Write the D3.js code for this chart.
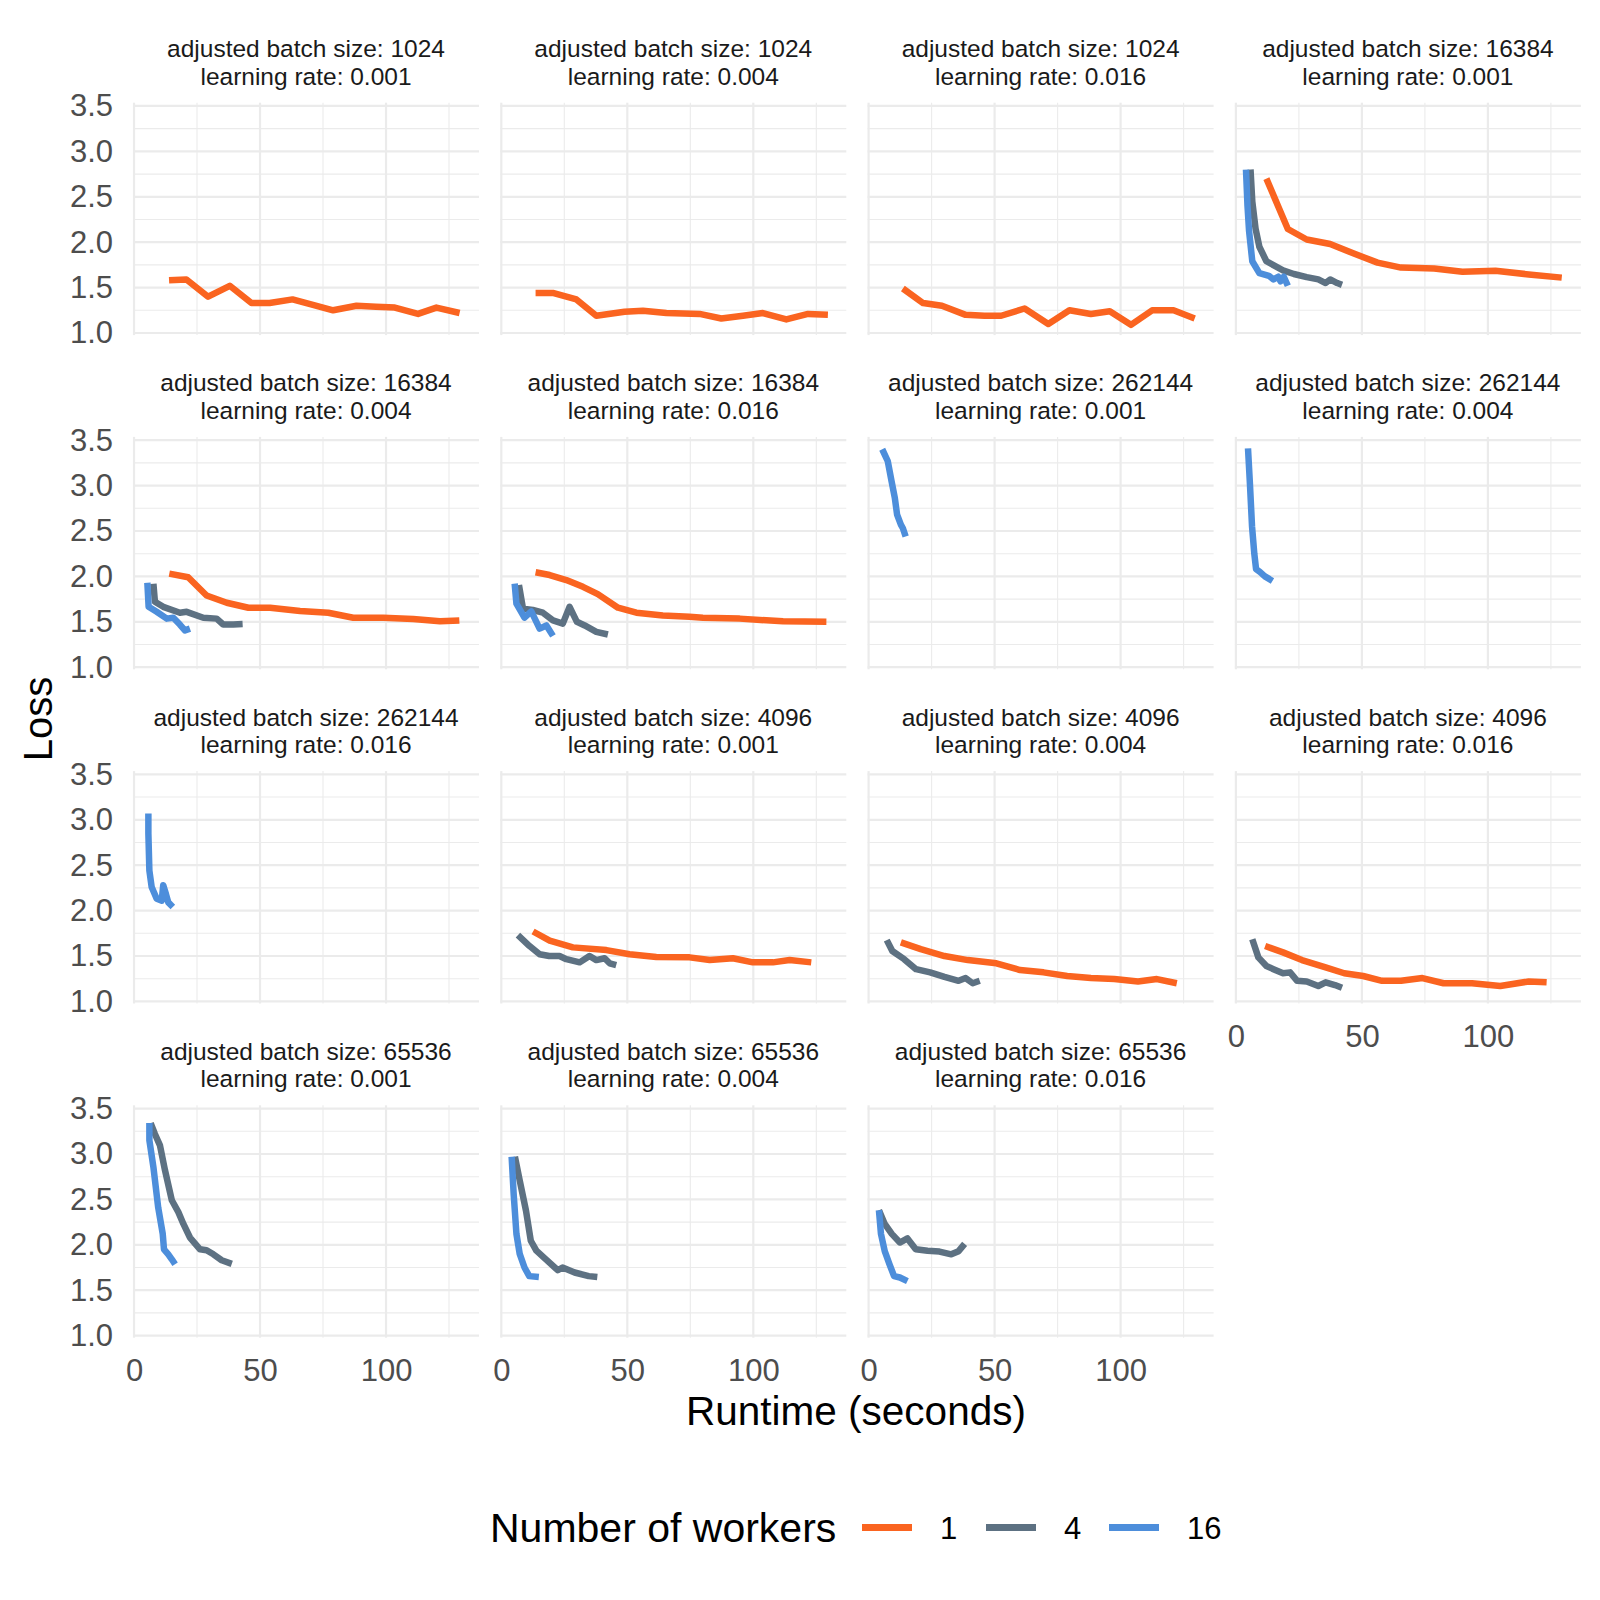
<!DOCTYPE html>
<html><head><meta charset="utf-8">
<script src="https://cdn.jsdelivr.net/npm/d3@7"></script>
<style>body{margin:0;background:#fff}text{font-family:"Liberation Sans",Arial,sans-serif}</style>
</head><body><svg id="chart" width="1600" height="1600"></svg>
<script>
// ---------- categories ----------
const batchSizes = ["1024","1024","1024","16384","16384","16384","262144","262144","262144","4096","4096","4096","65536","65536","65536"];
const learningRates = ["0.001","0.004","0.016","0.001","0.004","0.016","0.001","0.004","0.016","0.001","0.004","0.016","0.001","0.004","0.016"];
const workerLabels = ["1","4","16"];
const workerColors = ["#FA6420","#5D7182","#4D8EDB"];
const yTicks = [1.0,1.5,2.0,2.5,3.0,3.5];
const yMinor = [1.25,1.75,2.25,2.75,3.25];
const xTicks = [0,50,100];
const xMinor = [25,75,125];

// ---------- series: [runtime (s), loss] ----------
const b1024_lr001_w1 = [[13.9,1.58],[20.8,1.59],[29.4,1.40],[38.0,1.52],[46.6,1.33],[53.8,1.33],[62.9,1.37],[71,1.31],[79.0,1.25],[88.3,1.30],[96,1.29],[103.5,1.28],[112.7,1.21],[120.0,1.28],[129.2,1.22]];
const b1024_lr004_w1 = [[13.6,1.44],[20.8,1.44],[29.8,1.37],[37.7,1.19],[48.9,1.235],[56.2,1.245],[65.5,1.22],[78.7,1.21],[87.3,1.16],[95.9,1.19],[103.8,1.22],[113.1,1.15],[121.7,1.21],[129.6,1.20]];
const b1024_lr016_w1 = [[13.6,1.49],[21.6,1.33],[29.1,1.30],[38.5,1.20],[46,1.19],[52.6,1.19],[61.9,1.27],[71.3,1.10],[79.7,1.25],[88.2,1.21],[95.7,1.24],[104.1,1.09],[112.5,1.25],[121.0,1.25],[129.4,1.16]];

const b16384_lr001_w1 = [[12.1,2.70],[20.6,2.145],[28.1,2.03],[37.4,1.98],[46.8,1.875],[56.2,1.775],[65.5,1.72],[78.7,1.71],[89.9,1.675],[103,1.685],[116.2,1.645],[129.3,1.61]];
const b16384_lr001_w4 = [[5.8,2.80],[6.5,2.45],[7.8,2.15],[9.3,1.95],[12.1,1.79],[18.7,1.69],[23,1.65],[28.1,1.615],[32.7,1.59],[35.6,1.55],[37.4,1.59],[40.2,1.55],[42.1,1.53]];
const b16384_lr001_w16 = [[4.0,2.80],[4.6,2.40],[5.2,2.13],[6.5,1.79],[9.3,1.66],[13.1,1.63],[14.9,1.59],[16.8,1.62],[17.7,1.57],[19,1.62],[20.6,1.52]];

const b16384_lr004_w1 = [[14.0,2.03],[21.5,1.99],[28.8,1.79],[36.8,1.71],[45.4,1.655],[54.0,1.655],[65.9,1.62],[77.1,1.60],[87.0,1.545],[98.9,1.545],[110.8,1.53],[121.4,1.505],[129.1,1.515]];
const b16384_lr004_w4 = [[7.7,1.92],[8.3,1.72],[11.6,1.665],[18.2,1.60],[20.9,1.61],[27.5,1.545],[32.8,1.535],[35.4,1.47],[39.4,1.47],[43.1,1.475]];
const b16384_lr004_w16 = [[5.3,1.93],[5.8,1.665],[9.0,1.61],[13.0,1.535],[15.6,1.545],[18.2,1.47],[20.2,1.405],[22.2,1.425]];

const b16384_lr016_w1 = [[13.6,2.045],[19.2,2.015],[25.8,1.96],[32.4,1.885],[38.3,1.805],[46.3,1.655],[53.6,1.60],[64.1,1.57],[74.7,1.555],[80.0,1.545],[94.6,1.535],[111.8,1.505],[129.0,1.50]];
const b16384_lr016_w4 = [[7.0,1.905],[8.6,1.645],[12.5,1.63],[16.5,1.60],[20.5,1.515],[24.4,1.48],[27.1,1.665],[30.0,1.50],[33.1,1.46],[37.7,1.39],[42.3,1.36]];
const b16384_lr016_w16 = [[5.3,1.92],[6.0,1.70],[9.2,1.545],[11.9,1.615],[15.2,1.425],[17.9,1.46],[20.5,1.345]];

const b262144_lr001_w16 = [[5.4,3.40],[7.6,3.27],[9.1,3.05],[10.4,2.865],[11.3,2.68],[12.8,2.57],[13.6,2.53],[14.7,2.44]];
const b262144_lr004_w16 = [[4.8,3.41],[5.6,3.0],[6.4,2.55],[7.3,2.25],[8.0,2.08],[9.5,2.05],[11.5,2.00],[14.5,1.95]];
const b262144_lr016_w16 = [[5.7,3.07],[5.7,2.85],[6.1,2.44],[7.0,2.26],[9.0,2.13],[11.0,2.11],[11.6,2.28],[12.7,2.18],[13.6,2.09],[15.4,2.04]];

const b4096_lr001_w1 = [[12.6,1.77],[19.2,1.67],[28.4,1.595],[41.7,1.565],[50.9,1.52],[61.5,1.49],[74.7,1.485],[82.7,1.455],[91.9,1.475],[99.8,1.43],[107.8,1.43],[114.4,1.455],[123.0,1.43]];
const b4096_lr001_w4 = [[6.6,1.73],[11.2,1.61],[15.2,1.52],[19,1.50],[23.1,1.50],[25.8,1.465],[31.1,1.43],[35.0,1.50],[37.7,1.455],[41.0,1.475],[43.0,1.42],[45.6,1.40]];
const b4096_lr004_w1 = [[12.8,1.65],[20.7,1.575],[30.1,1.50],[39.4,1.455],[50.7,1.42],[60.1,1.345],[69.4,1.32],[78.8,1.28],[88.2,1.257],[97.5,1.246],[106.9,1.22],[114.4,1.246],[122.3,1.20]];
const b4096_lr004_w4 = [[7.2,1.675],[9.4,1.555],[14.1,1.465],[18.8,1.355],[24.4,1.32],[30.1,1.27],[35.7,1.227],[38.5,1.257],[41.3,1.20],[44.1,1.227]];
const b4096_lr016_w1 = [[11.6,1.61],[18.7,1.54],[26.2,1.455],[35.6,1.375],[43,1.31],[50.5,1.28],[58,1.227],[65.5,1.227],[74,1.257],[82.4,1.20],[93.7,1.20],[104.9,1.17],[116.2,1.22],[123.3,1.21]];
const b4096_lr016_w4 = [[6.5,1.685],[8.9,1.485],[12.1,1.39],[14.9,1.355],[18.7,1.31],[21.5,1.32],[24.3,1.227],[28.1,1.22],[32.7,1.17],[35.6,1.21],[39.3,1.18],[42.1,1.15]];

const b65536_lr001_w4 = [[6.6,3.34],[8.3,3.22],[10.3,3.095],[12.3,2.82],[15.0,2.49],[17.6,2.36],[19.6,2.23],[22.2,2.08],[26.2,1.95],[28.8,1.94],[31.5,1.895],[34.8,1.83],[38.8,1.79]];
const b65536_lr001_w16 = [[6.1,3.34],[6.1,3.15],[7.7,2.855],[9.6,2.41],[11.4,2.12],[11.9,1.95],[13.6,1.895],[15.0,1.84],[16.3,1.785]];
const b65536_lr004_w4 = [[5.4,2.97],[7.3,2.71],[9.8,2.375],[11.7,2.045],[13.9,1.935],[17.7,1.84],[22.4,1.72],[24.3,1.75],[29.1,1.695],[34.7,1.655],[38.1,1.645]];
const b65536_lr004_w16 = [[4.1,2.97],[4.9,2.56],[6.0,2.12],[7.3,1.90],[9.2,1.75],[11.1,1.655],[14.9,1.645]];
const b65536_lr016_w4 = [[4.1,2.38],[6.4,2.23],[9.2,2.12],[12.4,2.025],[15.4,2.07],[18.7,1.95],[23.4,1.935],[28.1,1.925],[32.8,1.895],[35.7,1.93],[38.1,2.01]];
const b65536_lr016_w16 = [[4.1,2.38],[4.9,2.12],[6.4,1.93],[8.3,1.785],[10.1,1.655],[12.4,1.64],[15.4,1.60]];

// per panel: [1 worker, 4 workers, 16 workers]
const panelSeries = [
  [b1024_lr001_w1, null, null],
  [b1024_lr004_w1, null, null],
  [b1024_lr016_w1, null, null],
  [b16384_lr001_w1, b16384_lr001_w4, b16384_lr001_w16],
  [b16384_lr004_w1, b16384_lr004_w4, b16384_lr004_w16],
  [b16384_lr016_w1, b16384_lr016_w4, b16384_lr016_w16],
  [null, null, b262144_lr001_w16],
  [null, null, b262144_lr004_w16],
  [null, null, b262144_lr016_w16],
  [b4096_lr001_w1, b4096_lr001_w4, null],
  [b4096_lr004_w1, b4096_lr004_w4, null],
  [b4096_lr016_w1, b4096_lr016_w4, null],
  [null, b65536_lr001_w4, b65536_lr001_w16],
  [null, b65536_lr004_w4, b65536_lr004_w16],
  [null, b65536_lr016_w4, b65536_lr016_w16]
];

// ---------- layout ----------
const svg = d3.select("#chart");
const ncol = 4;
const left0 = 133, pitchX = 367.3, pw = 346;
const top0 = 102.7, pitchY = 334.2, ph = 232.4;
const x = d3.scaleLinear().domain([-0.4, 136.9]).range([0, pw]);
const y = d3.scaleLinear().domain([0.977, 3.536]).range([ph, 0]);
const line = d3.line().x(d => x(d[0])).y(d => y(d[1]));
const grid = "#EBEBEB";
const ff = '"Liberation Sans",Arial,sans-serif';

batchSizes.forEach((bs, i) => {
  const col = i % ncol, row = Math.floor(i / ncol);
  const g = svg.append("g").attr("transform", `translate(${left0 + col*pitchX},${top0 + row*pitchY})`);
  // minor grid
  g.append("g").selectAll("line").data(yMinor).join("line")
    .attr("x1", 0).attr("x2", pw).attr("y1", d => y(d)).attr("y2", d => y(d))
    .attr("stroke", grid).attr("stroke-width", 1.1);
  g.append("g").selectAll("line").data(xMinor).join("line")
    .attr("y1", 0).attr("y2", ph).attr("x1", d => x(d)).attr("x2", d => x(d))
    .attr("stroke", grid).attr("stroke-width", 1.1);
  // major grid
  g.append("g").selectAll("line").data(yTicks).join("line")
    .attr("x1", 0).attr("x2", pw).attr("y1", d => y(d)).attr("y2", d => y(d))
    .attr("stroke", grid).attr("stroke-width", 2.2);
  g.append("g").selectAll("line").data(xTicks).join("line")
    .attr("y1", 0).attr("y2", ph).attr("x1", d => x(d)).attr("x2", d => x(d))
    .attr("stroke", grid).attr("stroke-width", 2.2);

  // strip title
  const cx = pw / 2;
  g.append("text").attr("x", cx).attr("y", -45.5).attr("text-anchor", "middle")
    .attr("font-size", 24.5).attr("fill", "#1A1A1A").text(`adjusted batch size: ${bs}`);
  g.append("text").attr("x", cx).attr("y", -18).attr("text-anchor", "middle")
    .attr("font-size", 24.5).attr("fill", "#1A1A1A").text(`learning rate: ${learningRates[i]}`);

  // y axis labels (first column)
  if (col === 0) {
    const ay = g.append("g").call(d3.axisLeft(y).tickValues(yTicks).tickFormat(d3.format(".1f")).tickSize(0).tickPadding(20));
    ay.select(".domain").remove();
    ay.selectAll("text").attr("font-size", 31).attr("fill", "#4D4D4D").attr("font-family", ff);
  }
  // x axis labels (no panel below)
  if (i + ncol >= batchSizes.length) {
    const ax = g.append("g").attr("transform", `translate(0,${ph})`)
      .call(d3.axisBottom(x).tickValues(xTicks).tickFormat(d3.format("d")).tickSize(0).tickPadding(21));
    ax.select(".domain").remove();
    ax.selectAll("text").attr("font-size", 31).attr("fill", "#4D4D4D").attr("font-family", ff);
  }

  // series
  panelSeries[i].forEach((s, k) => {
    if (!s) return;
    g.append("path").datum(s).attr("d", line)
      .attr("fill", "none").attr("stroke", workerColors[k]).attr("stroke-width", 6.5)
      .attr("stroke-linejoin", "round").attr("stroke-linecap", "butt");
  });
});

// axis titles
svg.append("text").attr("transform", "translate(52,719) rotate(-90)").attr("text-anchor", "middle")
  .attr("font-size", 40).attr("fill", "#000").text("Loss");
svg.append("text").attr("x", 856).attr("y", 1425).attr("text-anchor", "middle")
  .attr("font-size", 40.5).attr("fill", "#000").text("Runtime (seconds)");

// legend
const lg = svg.append("g");
lg.append("text").attr("x", 490).attr("y", 1542).attr("font-size", 41).attr("fill", "#000").text("Number of workers");
const keyX = [862, 986, 1109];
workerLabels.forEach((w, k) => {
  lg.append("line").attr("x1", keyX[k]).attr("x2", keyX[k] + 50).attr("y1", 1527.5).attr("y2", 1527.5)
    .attr("stroke", workerColors[k]).attr("stroke-width", 7);
  lg.append("text").attr("x", keyX[k] + 78).attr("y", 1538.5).attr("font-size", 31).attr("fill", "#000").text(w);
});
</script></body></html>
